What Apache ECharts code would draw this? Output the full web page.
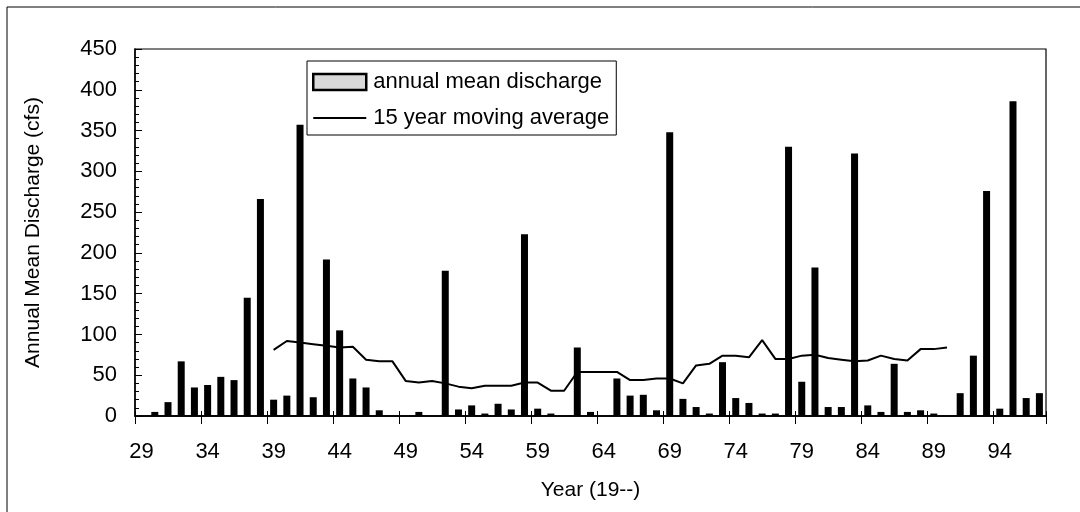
<!DOCTYPE html>
<html>
<head>
<meta charset="utf-8">
<script src="https://cdn.jsdelivr.net/npm/echarts@6/dist/echarts.min.js"></script>
<style>
  html, body { margin: 0; padding: 0; background: #fff; }
  #chart { width: 1080px; height: 512px; }
</style>
</head>
<body>
<div id="chart"></div>
<script>
// years 1929 - 1997, shown as two digits
const years = ['29','30','31','32','33','34','35','36','37','38','39','40','41','42','43','44','45','46','47','48',
  '49','50','51','52','53','54','55','56','57','58','59','60','61','62','63','64','65','66','67','68',
  '69','70','71','72','73','74','75','76','77','78','79','80','81','82','83','84','85','86','87','88',
  '89','90','91','92','93','94','95','96','97'];

// annual mean discharge (cfs)
const discharge = [0, 5, 17, 67, 35, 38, 48, 44, 145, 266, 20, 25, 357, 23, 192, 105, 46, 35, 7, 0,
  0, 5, 0, 178, 8, 13, 3, 15, 8, 223, 9, 3, 0, 84, 5, 0, 46, 25, 26, 7,
  348, 21, 11, 3, 66, 22, 16, 3, 3, 330, 42, 182, 11, 11, 322, 13, 5, 64, 5, 7,
  3, 0, 28, 74, 276, 9, 386, 22, 28];

// 15 year moving average, 1939 - 1990
const movingAvg = [null, null, null, null, null, null, null, null, null, null,
  81, 92, 90, 88, 86, 84, 85, 69, 67, 67,
  43, 41, 43, 40, 36, 34, 37, 37, 37, 41, 41, 31, 31, 54, 54, 54, 54, 44, 44, 46,
  46, 40, 62, 64, 74, 74, 72, 93, 70, 70, 74, 75, 71, 69, 67, 68, 74, 70, 68, 82,
  82, 84, null, null, null, null, null, null, null];

const yTicks = { min: 0, max: 450, step: 50 };

const font = "'Liberation Sans', Arial, sans-serif";
const chart = echarts.init(document.getElementById('chart'));

const catAxis = {
  type: 'category',
  data: years,
  boundaryGap: true,
  position: 'bottom',
  axisLine: { lineStyle: { color: '#000', width: 1.5 } },
  splitLine: { show: false }
};

chart.setOption({
  animation: false,
  backgroundColor: '#fff',
  graphic: [{
    type: 'rect',
    shape: { x: 7, y: 7, width: 1100, height: 600 },
    style: { fill: 'none', stroke: '#000', lineWidth: 1 },
    silent: true
  }],
  grid: {
    left: 135, right: 34, top: 49, bottom: 96,
    show: true, borderColor: '#000', borderWidth: 1.2
  },
  legend: {
    orient: 'vertical',
    left: 307, top: 61,
    padding: [10, 7, 6, 5],
    itemGap: 14,
    itemWidth: 53, itemHeight: 16,
    borderColor: '#000', borderWidth: 1,
    backgroundColor: '#fff',
    textStyle: { color: '#000', fontSize: 22, fontFamily: font, padding: [0, 0, 0, 2] },
    data: [
      { name: 'annual mean discharge', icon: 'rect',
        itemStyle: { color: '#d9d9d9', borderColor: '#000', borderWidth: 2.5 } },
      { name: '15 year moving average',
        itemStyle: { color: 'rgba(0,0,0,0)', borderColor: 'rgba(0,0,0,0)', borderWidth: 0 },
        lineStyle: { color: '#000', width: 2 } }
    ]
  },
  xAxis: [
    Object.assign({}, catAxis, {
      name: 'Year (19--)',
      nameLocation: 'middle',
      nameGap: 64,
      nameTextStyle: { color: '#000', fontSize: 21, fontFamily: font },
      axisTick: { show: true, interval: 4, length: 8, inside: false, lineStyle: { color: '#000' } },
      axisLabel: { interval: 4, margin: 25, color: '#000', fontSize: 22, fontFamily: font }
    }),
    Object.assign({}, catAxis, {
      axisTick: { show: true, interval: 4, length: 5, inside: true, lineStyle: { color: '#000' } },
      axisLabel: { show: false }
    })
  ],
  yAxis: {
    type: 'value',
    min: yTicks.min, max: yTicks.max, interval: yTicks.step,
    name: 'Annual Mean Discharge (cfs)',
    nameLocation: 'middle',
    nameGap: 91,
    nameTextStyle: { color: '#000', fontSize: 21, fontFamily: font },
    axisLine: { show: true, lineStyle: { color: '#000', width: 1.5 } },
    axisTick: { show: true, inside: true, length: 7, lineStyle: { color: '#000' } },
    minorTick: { show: true, splitNumber: 5, length: 4, lineStyle: { color: '#000' } },
    splitLine: { show: false },
    axisLabel: { margin: 18, color: '#000', fontSize: 22, fontFamily: font }
  },
  series: [
    {
      name: 'annual mean discharge',
      type: 'bar',
      data: discharge,
      barWidth: 7,
      itemStyle: { color: '#000' }
    },
    {
      name: '15 year moving average',
      type: 'line',
      data: movingAvg,
      showSymbol: false,
      symbol: 'none',
      connectNulls: false,
      lineStyle: { color: '#000', width: 2 },
      itemStyle: { color: '#000' }
    }
  ]
});
</script>
</body>
</html>
